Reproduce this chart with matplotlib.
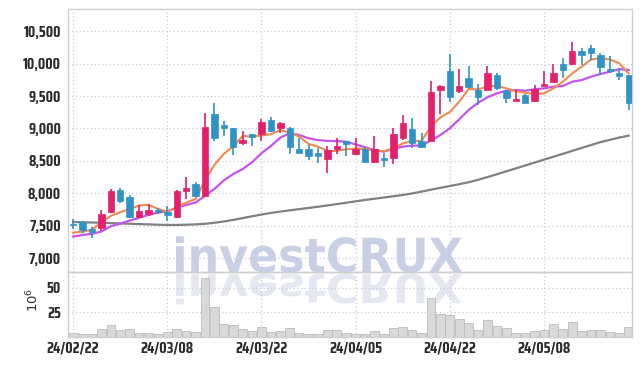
import numpy as np
import matplotlib
matplotlib.use("Agg")
import matplotlib.pyplot as plt
from matplotlib.textpath import TextPath
from matplotlib.patches import PathPatch
from matplotlib.font_manager import FontProperties
from matplotlib.transforms import Affine2D, IdentityTransform

# daily candles, 2024/02/22 .. 2024/05/22
tick_pos = [0, 10, 20, 30, 40, 50]
tick_labels = ['24/02/22', '24/03/08', '24/03/22', '24/04/05', '24/04/22', '24/05/08']

opens = [7530, 7560, 7450, 7470, 7710, 8060, 7950, 7640, 7680, 7740,
         7720, 7640, 8030, 8140, 7960, 9220, 9060, 9000, 8780, 8910,
         8920, 9130, 9010, 9000, 8690, 8690, 8630, 8530, 8680, 8800,
         8600, 8690, 8480, 8550, 8540, 8860, 8990, 8810, 8810, 9600,
         9890, 9570, 9780, 9590, 9600, 9820, 9580, 9420, 9510, 9420,
         9655, 9720, 9990, 9990, 10195, 10240, 10130, 9920, 9860, 9820]
highs = [7600, 7570, 7480, 7740, 8070, 8080, 7980, 7820, 7830, 7770,
         7800, 8050, 8250, 8180, 9240, 9400, 9110, 9010, 8960, 8920,
         9150, 9180, 9100, 9030, 8850, 8750, 8700, 8730, 8850, 8810,
         8850, 8710, 8880, 8620, 9010, 9200, 9160, 8930, 9730, 9670,
         10150, 9910, 9960, 9690, 9960, 9850, 9600, 9600, 9530, 9670,
         9890, 9990, 10080, 10330, 10240, 10280, 10170, 10110, 9930, 9830]
lows = [7450, 7390, 7320, 7420, 7700, 7860, 7620, 7620, 7660, 7680,
        7570, 7620, 7920, 7950, 7950, 8810, 8880, 8590, 8750, 8730,
        8810, 8950, 8930, 8610, 8620, 8520, 8470, 8320, 8610, 8580,
        8590, 8480, 8470, 8410, 8450, 8820, 8700, 8700, 8800, 9230,
        9410, 9540, 9630, 9360, 9590, 9600, 9400, 9420, 9390, 9410,
        9650, 9710, 9770, 9980, 9970, 10050, 9820, 9860, 9750, 9280]
closes = [7510, 7440, 7410, 7690, 8040, 7890, 7630, 7730, 7740, 7710,
          7670, 8030, 8080, 7960, 9020, 8850, 9010, 8710, 8830, 8870,
          9100, 8960, 9080, 8710, 8630, 8570, 8570, 8670, 8730, 8760,
          8690, 8490, 8680, 8510, 8920, 9080, 8770, 8710, 9560, 9660,
          9490, 9650, 9640, 9480, 9860, 9620, 9470, 9450, 9400, 9610,
          9685, 9860, 9900, 10190, 10130, 10170, 9940, 9880, 9810, 9400]

ma_short = [7395, 7413, 7440, 7555, 7655, 7710, 7758, 7815, 7825, 7762,
            7720, 7782, 7859, 7915, 8200, 8440, 8610, 8725, 8885, 8875,
            8893, 8911, 8977, 8936, 8875, 8762, 8721, 8654, 8654, 8680,
            8690, 8685, 8665, 8650, 8690, 8770, 8810, 8808, 9033, 9170,
            9254, 9413, 9608, 9603, 9644, 9659, 9618, 9577, 9551, 9531,
            9541, 9618, 9720, 9849, 9951, 10064, 10080, 10064, 10003, 9849]
ma_mid = [7336, 7360, 7378, 7413, 7495, 7535, 7582, 7625, 7670, 7705,
          7725, 7780, 7823, 7859, 7965, 8070, 8200, 8300, 8375, 8480,
          8620, 8730, 8860, 8925, 8900, 8850, 8820, 8810, 8805, 8795,
          8755, 8712, 8665, 8644, 8688, 8720, 8736, 8736, 8815, 8900,
          9003, 9141, 9285, 9397, 9480, 9541, 9582, 9593, 9582, 9603,
          9618, 9644, 9654, 9720, 9746, 9797, 9839, 9874, 9915, 9900]
ma_long = [7560, 7556, 7552, 7548, 7543, 7538, 7533, 7528, 7523, 7518,
           7515, 7515, 7518, 7524, 7532, 7548, 7568, 7592, 7620, 7648,
           7675, 7700, 7720, 7740, 7758, 7776, 7795, 7815, 7836, 7857,
           7878, 7900, 7918, 7937, 7956, 7976, 8000, 8028, 8058, 8086,
           8114, 8142, 8172, 8210, 8252, 8295, 8340, 8385, 8430, 8475,
           8520, 8565, 8610, 8655, 8700, 8745, 8790, 8825, 8860, 8890]

volume = [4, 3, 3, 8, 12, 7, 8, 4, 4, 3,
          5, 8, 6, 5, 60, 30, 13, 12, 8, 6,
          10, 5, 6, 9, 4, 3, 3, 7, 7, 4,
          3, 3, 6, 3, 9, 10, 7, 4, 39.5, 23.5,
          22.4, 18, 14.6, 7, 17, 11, 9, 4, 4, 6,
          7, 13, 8, 15, 6.5, 7, 7, 5, 4, 10]

UP = '#e2206b'
DOWN = '#2f93c7'
GRID = '#c9cbe0'
SPINE = '#cfcfcf'
TXT = '#2b2b2b'
TICK_FONT = ['Saira Condensed', 'Saira SemiCondensed', 'DejaVu Sans']

fig = plt.figure(figsize=(6.42, 3.66), dpi=100)
ax = fig.add_axes([68 / 642, 1 - 272 / 366, 564 / 642, 263 / 366])
axv = fig.add_axes([68 / 642, 1 - 337 / 366, 564 / 642, 65 / 366], sharex=ax)
for a in (ax, axv):
    a.patch.set_alpha(0)
    for s in a.spines.values():
        s.set_color(SPINE)
        s.set_linewidth(1)

x = np.arange(len(closes))

# watermark + reflection, drawn behind the axes
prop = FontProperties(family='DejaVu Sans', weight='bold')
tp = TextPath((0, 0), 'investCRUX', size=47, prop=prop)
ext = tp.get_extents()
sx = 286 / ext.width
wm = PathPatch(tp, transform=Affine2D().scale(sx, 1).translate(176 - ext.x0 * sx, 366 - 272) + IdentityTransform(),
               fc='#c9cfe5', ec='none', zorder=-2)
wr = PathPatch(tp, transform=Affine2D().scale(sx, -0.85).translate(176 - ext.x0 * sx, 366 - 274) + IdentityTransform(),
               fc='#e6e8f1', ec='none', zorder=-3)
fig.add_artist(wr)
fig.add_artist(wm)

# moving averages
ax.plot(x, ma_long, color='#808080', lw=1.6, zorder=2)
ax.plot(x, ma_mid, color='#c654ec', lw=1.6, zorder=2)
ax.plot(x, ma_short, color='#f08a50', lw=1.5, zorder=2)

# candles
for i in range(len(closes)):
    c = UP if closes[i] >= opens[i] else DOWN
    ax.vlines(x[i], lows[i], highs[i], color=c, lw=1.2, zorder=3)
    lo = min(opens[i], closes[i])
    h = max(abs(closes[i] - opens[i]), 25)
    ax.bar(x[i], h, bottom=lo, width=0.68, color=c, edgecolor=c, lw=0.5, zorder=4)

ax.set_ylim(6790, 10840)
ax.set_yticks(np.arange(7000, 10501, 500))
ax.set_yticklabels([f'{v:,}' for v in range(7000, 10501, 500)])
ax.set_xlim(-0.55, 59.35)
ax.set_xticks(tick_pos)
ax.tick_params(axis='x', length=0, labelbottom=False)
ax.tick_params(axis='y', length=0, pad=5)
ax.grid(True, color=GRID, ls=(0, (1, 2)), lw=0.9)
ax.set_axisbelow(True)

# volume
axv.bar(x, volume, width=0.92, color='#d9d9d9', edgecolor='#bcbcbc', lw=0.6, zorder=2)
axv.set_ylim(0, 66)
axv.set_yticks([25, 50])
axv.set_xticks(tick_pos)
axv.set_xticklabels(tick_labels)
axv.tick_params(length=0)
axv.tick_params(axis='y', pad=5)
axv.tick_params(axis='x', pad=3)
axv.grid(True, color=GRID, ls=(0, (1, 2)), lw=0.9)
axv.set_axisbelow(True)
fig.text(33 / 642, 1 - 300 / 366, r'$10^6$', rotation=90, ha='center', va='center',
         fontsize=9.5, color=TXT, family='DejaVu Serif')

for a in (ax, axv):
    for lab in a.get_yticklabels() + a.get_xticklabels():
        lab.set_family(TICK_FONT)
        lab.set_fontsize(11)
        lab.set_fontweight('bold')
        lab.set_color(TXT)

fig.savefig('out.png', dpi=100)
